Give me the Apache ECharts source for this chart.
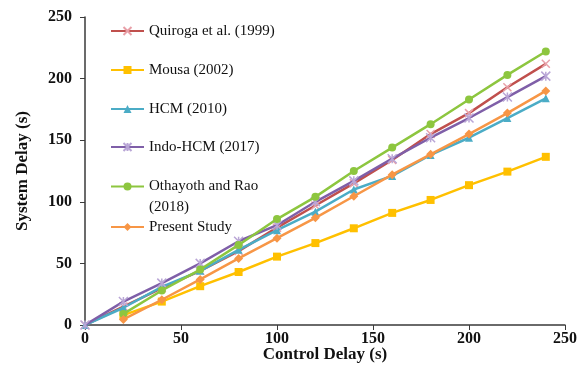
<!DOCTYPE html>
<html>
<head>
<meta charset="utf-8">
<script src="https://cdn.jsdelivr.net/npm/echarts@6/dist/echarts.min.js"></script>
<style>
  html, body { margin: 0; padding: 0; background: #fff; }
  #chart { width: 584px; height: 384px; }
</style>
</head>
<body>
<div id="chart"></div>
<script>
// Control delay (s) on the x axis
var controlDelay = [0, 20, 40, 60, 80, 100, 120, 140, 160, 180, 200, 220, 240];

// System delay (s) for each model; null where a model has no value
var quiroga   = [0, 15, 30, 44, 60, 79, 97, 115, 134, 155, 172, 193, 212];
var mousa     = [null, 8, 19, 31.5, 43, 55.5, 66.5, 78.5, 91, 101.5, 113.5, 124.5, 136.5];
var hcm       = [0, 14, 31, 44, 61, 77, 92, 110, 121, 138, 152, 168, 184];
var indoHcm   = [0, 19, 34, 50, 68, 81, 100, 117, 135, 152, 168, 185, 202];
var othayoth  = [null, 9, 28, 45, 65, 86, 104, 125, 144, 163, 183, 203, 222];
var present   = [null, 4.5, 20.5, 37, 54, 70.5, 87, 104.5, 122, 138.5, 155, 172, 190];

var seriesNames = ['Quiroga et al. (1999)', 'Mousa (2002)', 'HCM (2010)', 'Indo-HCM (2017)', 'Othayoth and Rao (2018)', 'Present Study'];
// the wrapped entry gets a blank leading line so its icon sits beside the first text line
var legendLabels = ['Quiroga et al. (1999)', 'Mousa (2002)', 'HCM (2010)', 'Indo-HCM (2017)', ' \nOthayoth and Rao\n(2018)', 'Present Study'];
var axisTicks = [0, 50, 100, 150, 200, 250];

function pairs(values) {
  var out = [];
  for (var i = 0; i < controlDelay.length; i++) {
    if (values[i] !== null) out.push([controlDelay[i], values[i]]);
  }
  return out;
}

var styles = [
  { line: '#C0504D', mark: '#E8A0A8', symbol: 'path://M0,0L10,10M10,0L0,10', size: 8, stroke: true },
  { line: '#FFC000', mark: '#FFC000', symbol: 'rect', size: 8 },
  { line: '#4BACC6', mark: '#4BACC6', symbol: 'triangle', size: 8 },
  { line: '#7F5FA8', mark: '#B9A6D6', symbol: 'path://M0,0L10,10M10,0L0,10M5,0L5,10', size: 9, stroke: true },
  { line: '#8DC63F', mark: '#8DC63F', symbol: 'circle', size: 8 },
  { line: '#F79646', mark: '#F79646', symbol: 'diamond', size: 9 }
];
var allValues = [quiroga, mousa, hcm, indoHcm, othayoth, present];

var series = allValues.map(function (vals, i) {
  var s = styles[i];
  return {
    name: seriesNames[i],
    type: 'line',
    data: pairs(vals),
    symbol: s.symbol,
    symbolSize: s.size,
    showAllSymbol: true,
    lineStyle: { color: s.line, width: 2.5 },
    itemStyle: s.stroke
      ? { color: s.mark, borderColor: s.mark, borderWidth: 1.5 }
      : { color: s.mark, borderWidth: 0 },
    emphasis: { disabled: true },
    z: 2 + i
  };
});

// one legend block per entry, stacked down the upper-left of the plot
var legendCentres = [31, 70, 109, 147, 186, 227];
var legends = seriesNames.map(function (name, i) {
  var lines = legendLabels[i].split('\n').length;
  var lh = lines > 1 ? 21 : 20;
  return {
    data: [name],
    left: 110,
    top: Math.round(legendCentres[i] - lines * lh / 2),
    orient: 'vertical',
    itemWidth: 33,
    itemHeight: 10,
    itemGap: 0,
    padding: 0,
    selectedMode: false,
    formatter: function () { return legendLabels[i]; },
    textStyle: {
      fontFamily: 'Liberation Serif',
      fontSize: 15,
      color: '#111',
      lineHeight: lh
    }
  };
});

var chart = echarts.init(document.getElementById('chart'), null, { renderer: 'canvas' });
chart.setOption({
  animation: false,
  backgroundColor: '#ffffff',
  legend: legends,
  grid: { left: 85, right: 19, top: 17, bottom: 59, containLabel: false },
  xAxis: {
    type: 'value',
    min: 0, max: 250, interval: 50,
    name: 'Control Delay (s)',
    nameLocation: 'middle',
    nameGap: 21,
    nameMoveOverlap: false,
    nameTextStyle: { fontFamily: 'Liberation Serif', fontWeight: 'bold', fontSize: 17, color: '#111' },
    axisLine: { show: true, lineStyle: { color: '#3a3a3a', width: 1.5 } },
    axisTick: { show: true, length: 5, lineStyle: { color: '#3a3a3a' } },
    axisLabel: {
      margin: 6,
      fontFamily: 'Liberation Serif', fontWeight: 'bold', fontSize: 16, color: '#111',
      formatter: function (v) { return axisTicks.indexOf(v) >= 0 ? String(v) : ''; }
    },
    splitLine: { show: false }
  },
  yAxis: {
    type: 'value',
    min: 0, max: 250, interval: 50,
    name: 'System Delay (s)',
    nameLocation: 'middle',
    nameGap: 54,
    nameTextStyle: { fontFamily: 'Liberation Serif', fontWeight: 'bold', fontSize: 17, color: '#111' },
    axisLine: { show: true, lineStyle: { color: '#3a3a3a', width: 1.5 } },
    axisTick: { show: true, length: 5, lineStyle: { color: '#3a3a3a' } },
    axisLabel: {
      margin: 13,
      fontFamily: 'Liberation Serif', fontWeight: 'bold', fontSize: 16, color: '#111'
    },
    splitLine: { show: false }
  },
  series: series
});
</script>
</body>
</html>
